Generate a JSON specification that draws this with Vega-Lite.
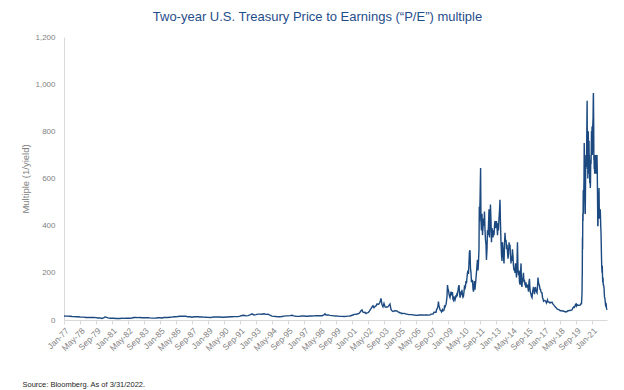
{
"$schema": "https://vega.github.io/schema/vega-lite/v6.json",
"width": 543, "height": 283,
"autosize": {"type": "none"},
"padding": {"left": 64, "top": 37, "right": 17, "bottom": 70},
"background": "white",
"title": {"text": "Two-year U.S. Treasury Price to Earnings (“P/E”) multiple", "anchor": "middle", "frame": "group", "dx": -18, "fontSize": 13, "font": "Liberation Sans", "fontWeight": "normal", "color": "#1f4e8c", "offset": 9},
"data": {"values": [
{"d":"1977-01-01","v":17},{"d":"1977-03-01","v":16.5},{"d":"1977-05-01","v":16.5},{"d":"1977-07-01","v":16},{"d":"1977-09-01","v":15},{"d":"1977-11-01","v":14.5},
{"d":"1978-01-01","v":13.5},{"d":"1978-03-01","v":13.5},{"d":"1978-05-01","v":12.5},{"d":"1978-07-01","v":12},{"d":"1978-09-01","v":12},{"d":"1978-11-01","v":10.5},
{"d":"1979-01-01","v":10.5},{"d":"1979-03-01","v":10.5},{"d":"1979-05-01","v":10.5},{"d":"1979-07-01","v":11},{"d":"1979-09-01","v":10},{"d":"1979-11-01","v":8.5},
{"d":"1980-01-01","v":9},{"d":"1980-03-01","v":6.8},{"d":"1980-05-01","v":10.5},{"d":"1980-06-01","v":12.5},{"d":"1980-07-01","v":12},{"d":"1980-09-01","v":9},{"d":"1980-11-01","v":7.5},
{"d":"1981-01-01","v":7.5},{"d":"1981-03-01","v":7.5},{"d":"1981-05-01","v":6.3},{"d":"1981-07-01","v":6.5},{"d":"1981-09-01","v":6.2},{"d":"1981-11-01","v":8},
{"d":"1982-01-01","v":7},{"d":"1982-03-01","v":7.2},{"d":"1982-05-01","v":7.3},{"d":"1982-07-01","v":7.5},{"d":"1982-09-01","v":8.5},{"d":"1982-11-01","v":10.5},
{"d":"1983-01-01","v":10.5},{"d":"1983-03-01","v":10.2},{"d":"1983-05-01","v":10.5},{"d":"1983-07-01","v":9.5},{"d":"1983-09-01","v":9.5},{"d":"1983-11-01","v":9.8},
{"d":"1984-01-01","v":9.8},{"d":"1984-03-01","v":8.8},{"d":"1984-05-01","v":8},{"d":"1984-07-01","v":7.8},{"d":"1984-09-01","v":8.5},{"d":"1984-11-01","v":9.5},
{"d":"1985-01-01","v":9.5},{"d":"1985-03-01","v":8.8},{"d":"1985-05-01","v":10.5},{"d":"1985-07-01","v":11},{"d":"1985-09-01","v":10.5},{"d":"1985-11-01","v":11.5},
{"d":"1986-01-01","v":12},{"d":"1986-03-01","v":13.5},{"d":"1986-05-01","v":13.5},{"d":"1986-07-01","v":15},{"d":"1986-09-01","v":16},{"d":"1986-11-01","v":16},
{"d":"1987-01-01","v":16.5},{"d":"1987-03-01","v":16},{"d":"1987-05-01","v":13.5},{"d":"1987-07-01","v":13.5},{"d":"1987-09-01","v":12},{"d":"1987-11-01","v":13.5},
{"d":"1988-01-01","v":14},{"d":"1988-03-01","v":14},{"d":"1988-05-01","v":13},{"d":"1988-07-01","v":12.5},{"d":"1988-09-01","v":12},{"d":"1988-11-01","v":11.5},
{"d":"1989-01-01","v":11},{"d":"1989-03-01","v":10.5},{"d":"1989-05-01","v":11.5},{"d":"1989-07-01","v":13},{"d":"1989-09-01","v":12.5},{"d":"1989-11-01","v":13},
{"d":"1990-01-01","v":12.5},{"d":"1990-03-01","v":11.5},{"d":"1990-05-01","v":11.8},{"d":"1990-07-01","v":12.5},{"d":"1990-09-01","v":12.5},{"d":"1990-11-01","v":13.5},
{"d":"1991-01-01","v":14},{"d":"1991-03-01","v":14.5},{"d":"1991-05-01","v":14.5},{"d":"1991-07-01","v":14.5},{"d":"1991-09-01","v":16.5},{"d":"1991-11-01","v":19},
{"d":"1992-01-01","v":20},{"d":"1992-03-01","v":17.5},{"d":"1992-05-01","v":18.5},{"d":"1992-07-01","v":22},{"d":"1992-09-01","v":26},{"d":"1992-11-01","v":21.5},
{"d":"1993-01-01","v":23},{"d":"1993-03-01","v":25},{"d":"1993-05-01","v":25},{"d":"1993-07-01","v":24.5},{"d":"1993-09-01","v":26.5},{"d":"1993-11-01","v":24},
{"d":"1994-01-01","v":24.5},{"d":"1994-03-01","v":21},{"d":"1994-05-01","v":16.5},{"d":"1994-07-01","v":15.5},{"d":"1994-09-01","v":15},{"d":"1994-11-01","v":13.5},
{"d":"1995-01-01","v":13.5},{"d":"1995-03-01","v":15},{"d":"1995-05-01","v":16.5},{"d":"1995-07-01","v":17.5},{"d":"1995-09-01","v":17.5},{"d":"1995-11-01","v":18.5},
{"d":"1996-01-01","v":20},{"d":"1996-03-01","v":17.5},{"d":"1996-05-01","v":16},{"d":"1996-07-01","v":15.5},{"d":"1996-09-01","v":16},{"d":"1996-11-01","v":17.5},
{"d":"1997-01-01","v":17},{"d":"1997-03-01","v":16},{"d":"1997-05-01","v":16},{"d":"1997-07-01","v":17},{"d":"1997-09-01","v":17},{"d":"1997-11-01","v":17.5},
{"d":"1998-01-01","v":18},{"d":"1998-03-01","v":18},{"d":"1998-05-01","v":18},{"d":"1998-07-01","v":18},{"d":"1998-09-01","v":22},{"d":"1998-10-01","v":26},{"d":"1998-11-01","v":21},
{"d":"1999-01-01","v":21.5},{"d":"1999-03-01","v":19.5},{"d":"1999-05-01","v":18.5},{"d":"1999-07-01","v":17.5},{"d":"1999-09-01","v":17},{"d":"1999-11-01","v":16.5},
{"d":"2000-01-01","v":15.5},{"d":"2000-03-01","v":15.5},{"d":"2000-05-01","v":14.8},{"d":"2000-07-01","v":15.5},{"d":"2000-09-01","v":16.5},{"d":"2000-11-01","v":17},
{"d":"2001-01-01","v":20},{"d":"2001-02-01","v":21},{"d":"2001-03-01","v":24},{"d":"2001-04-01","v":24},{"d":"2001-05-01","v":24.5},{"d":"2001-06-01","v":25},{"d":"2001-07-01","v":26.5},{"d":"2001-08-01","v":28},{"d":"2001-09-01","v":33},{"d":"2001-10-01","v":39},{"d":"2001-11-01","v":43},{"d":"2001-12-01","v":33},
{"d":"2002-01-01","v":32},{"d":"2002-02-01","v":33},{"d":"2002-03-01","v":27},{"d":"2002-04-01","v":30},{"d":"2002-05-01","v":31},{"d":"2002-06-01","v":35},{"d":"2002-07-01","v":42},{"d":"2002-08-01","v":48},{"d":"2002-09-01","v":55},{"d":"2002-10-01","v":60},{"d":"2002-11-01","v":52},{"d":"2002-12-01","v":58},
{"d":"2003-01-01","v":60},{"d":"2003-02-01","v":68},{"d":"2003-03-01","v":66},{"d":"2003-04-01","v":68},{"d":"2003-05-01","v":75},{"d":"2003-06-01","v":92},{"d":"2003-07-01","v":66},{"d":"2003-08-01","v":56},{"d":"2003-09-01","v":70},{"d":"2003-10-01","v":56},{"d":"2003-11-01","v":54},{"d":"2003-12-01","v":55},
{"d":"2004-01-01","v":57},{"d":"2004-02-01","v":62},{"d":"2004-03-01","v":68},{"d":"2004-04-01","v":45},{"d":"2004-05-01","v":39},{"d":"2004-06-01","v":36},{"d":"2004-07-01","v":38},{"d":"2004-08-01","v":40},{"d":"2004-09-01","v":38},{"d":"2004-10-01","v":38},{"d":"2004-11-01","v":34},{"d":"2004-12-01","v":33},
{"d":"2005-01-01","v":30},{"d":"2005-02-01","v":30},{"d":"2005-03-01","v":27},{"d":"2005-04-01","v":28},{"d":"2005-05-01","v":28},{"d":"2005-06-01","v":27},{"d":"2005-07-01","v":25},{"d":"2005-08-01","v":25},{"d":"2005-09-01","v":24},{"d":"2005-10-01","v":23},{"d":"2005-11-01","v":23},{"d":"2005-12-01","v":23},
{"d":"2006-01-01","v":23},{"d":"2006-02-01","v":22},{"d":"2006-03-01","v":21},{"d":"2006-04-01","v":20.5},{"d":"2006-05-01","v":20},{"d":"2006-06-01","v":19.5},{"d":"2006-07-01","v":20},{"d":"2006-08-01","v":21},{"d":"2006-09-01","v":21.5},{"d":"2006-10-01","v":21},{"d":"2006-11-01","v":21.5},{"d":"2006-12-01","v":21},
{"d":"2007-01-01","v":20.5},{"d":"2007-02-01","v":21.5},{"d":"2007-03-01","v":21.5},{"d":"2007-04-01","v":21.5},{"d":"2007-05-01","v":20.5},{"d":"2007-06-01","v":20.5},{"d":"2007-07-01","v":22},{"d":"2007-08-01","v":25},{"d":"2007-09-01","v":25},{"d":"2007-10-01","v":25},{"d":"2007-11-01","v":33},{"d":"2007-12-01","v":33},
{"d":"2008-01-01","v":33},{"d":"2008-01-15","v":42},{"d":"2008-02-01","v":47},{"d":"2008-02-15","v":52},{"d":"2008-03-01","v":60},{"d":"2008-03-15","v":78},{"d":"2008-04-01","v":58},{"d":"2008-04-15","v":54},{"d":"2008-05-01","v":43},{"d":"2008-05-15","v":42},{"d":"2008-06-01","v":39},{"d":"2008-06-15","v":34},{"d":"2008-07-01","v":38},{"d":"2008-07-15","v":44},{"d":"2008-08-01","v":39},{"d":"2008-08-15","v":42},{"d":"2008-09-01","v":42},{"d":"2008-09-15","v":58},{"d":"2008-10-01","v":55},{"d":"2008-10-15","v":60},{"d":"2008-11-01","v":66},{"d":"2008-11-15","v":80},{"d":"2008-12-01","v":100},{"d":"2008-12-15","v":148},
{"d":"2009-01-01","v":130},{"d":"2009-01-15","v":125},{"d":"2009-02-01","v":110},{"d":"2009-02-15","v":100},{"d":"2009-03-01","v":95},{"d":"2009-03-15","v":107},{"d":"2009-04-01","v":120},{"d":"2009-04-15","v":108},{"d":"2009-05-01","v":110},{"d":"2009-05-15","v":118},{"d":"2009-06-01","v":88},{"d":"2009-06-15","v":84},{"d":"2009-07-01","v":100},{"d":"2009-07-15","v":94},{"d":"2009-08-01","v":85},{"d":"2009-08-15","v":92},{"d":"2009-09-01","v":105},{"d":"2009-09-15","v":97},{"d":"2009-10-01","v":115},{"d":"2009-10-15","v":110},{"d":"2009-11-01","v":125},{"d":"2009-11-15","v":140},{"d":"2009-12-01","v":148},{"d":"2009-12-15","v":120},
{"d":"2010-01-01","v":95},{"d":"2010-01-15","v":103},{"d":"2010-02-01","v":120},{"d":"2010-02-15","v":107},{"d":"2010-03-01","v":128},{"d":"2010-03-15","v":108},{"d":"2010-04-01","v":97},{"d":"2010-04-15","v":100},{"d":"2010-05-01","v":118},{"d":"2010-05-15","v":140},{"d":"2010-06-01","v":135},{"d":"2010-06-15","v":142},{"d":"2010-07-01","v":165},{"d":"2010-07-15","v":155},{"d":"2010-08-01","v":180},{"d":"2010-08-15","v":200},{"d":"2010-09-01","v":210},{"d":"2010-09-15","v":195},{"d":"2010-10-01","v":245},{"d":"2010-10-15","v":290},{"d":"2010-11-01","v":296},{"d":"2010-11-15","v":220},{"d":"2010-12-01","v":200},{"d":"2010-12-15","v":160},
{"d":"2011-01-01","v":165},{"d":"2011-01-15","v":170},{"d":"2011-02-01","v":130},{"d":"2011-02-15","v":120},{"d":"2011-03-01","v":138},{"d":"2011-03-15","v":165},{"d":"2011-04-01","v":128},{"d":"2011-04-15","v":150},{"d":"2011-05-01","v":175},{"d":"2011-05-15","v":200},{"d":"2011-06-01","v":230},{"d":"2011-06-15","v":255},{"d":"2011-07-01","v":210},{"d":"2011-07-15","v":240},{"d":"2011-08-01","v":300},{"d":"2011-08-10","v":480},{"d":"2011-08-15","v":420},{"d":"2011-09-01","v":500},{"d":"2011-09-19","v":645},{"d":"2011-10-01","v":420},{"d":"2011-10-15","v":380},{"d":"2011-11-01","v":450},{"d":"2011-11-15","v":360},{"d":"2011-12-01","v":390},{"d":"2011-12-15","v":430},
{"d":"2012-01-01","v":400},{"d":"2012-01-15","v":460},{"d":"2012-02-01","v":380},{"d":"2012-02-15","v":340},{"d":"2012-03-01","v":320},{"d":"2012-03-15","v":255},{"d":"2012-04-01","v":300},{"d":"2012-04-15","v":380},{"d":"2012-05-01","v":360},{"d":"2012-05-15","v":400},{"d":"2012-06-01","v":470},{"d":"2012-06-15","v":350},{"d":"2012-07-01","v":410},{"d":"2012-07-15","v":490},{"d":"2012-08-01","v":420},{"d":"2012-08-15","v":330},{"d":"2012-09-01","v":390},{"d":"2012-09-15","v":370},{"d":"2012-10-01","v":350},{"d":"2012-10-15","v":380},{"d":"2012-11-01","v":360},{"d":"2012-11-15","v":400},{"d":"2012-12-01","v":420},{"d":"2012-12-15","v":390},
{"d":"2013-01-01","v":400},{"d":"2013-01-15","v":420},{"d":"2013-02-01","v":390},{"d":"2013-02-15","v":360},{"d":"2013-03-01","v":410},{"d":"2013-03-15","v":380},{"d":"2013-04-01","v":430},{"d":"2013-04-15","v":460},{"d":"2013-05-01","v":510},{"d":"2013-05-15","v":420},{"d":"2013-06-01","v":330},{"d":"2013-06-15","v":280},{"d":"2013-07-01","v":250},{"d":"2013-07-15","v":330},{"d":"2013-08-01","v":300},{"d":"2013-08-15","v":270},{"d":"2013-09-01","v":240},{"d":"2013-09-15","v":320},{"d":"2013-10-01","v":370},{"d":"2013-10-15","v":330},{"d":"2013-11-01","v":340},{"d":"2013-11-15","v":300},{"d":"2013-12-01","v":320},{"d":"2013-12-15","v":290},
{"d":"2014-01-01","v":260},{"d":"2014-01-15","v":280},{"d":"2014-02-01","v":330},{"d":"2014-02-15","v":300},{"d":"2014-03-01","v":320},{"d":"2014-03-15","v":280},{"d":"2014-04-01","v":240},{"d":"2014-04-15","v":270},{"d":"2014-05-01","v":250},{"d":"2014-05-15","v":300},{"d":"2014-06-01","v":270},{"d":"2014-06-15","v":230},{"d":"2014-07-01","v":210},{"d":"2014-07-15","v":220},{"d":"2014-08-01","v":200},{"d":"2014-08-15","v":240},{"d":"2014-09-01","v":210},{"d":"2014-09-15","v":180},{"d":"2014-10-01","v":240},{"d":"2014-10-15","v":330},{"d":"2014-11-01","v":210},{"d":"2014-11-15","v":190},{"d":"2014-12-01","v":210},{"d":"2014-12-15","v":160},
{"d":"2015-01-01","v":150},{"d":"2015-01-15","v":200},{"d":"2015-02-01","v":240},{"d":"2015-02-15","v":150},{"d":"2015-03-01","v":140},{"d":"2015-03-15","v":170},{"d":"2015-04-01","v":180},{"d":"2015-04-15","v":200},{"d":"2015-05-01","v":160},{"d":"2015-05-15","v":170},{"d":"2015-06-01","v":150},{"d":"2015-06-15","v":145},{"d":"2015-07-01","v":160},{"d":"2015-07-15","v":140},{"d":"2015-08-01","v":140},{"d":"2015-08-15","v":150},{"d":"2015-09-01","v":135},{"d":"2015-09-15","v":120},{"d":"2015-10-01","v":160},{"d":"2015-10-15","v":175},{"d":"2015-11-01","v":130},{"d":"2015-11-15","v":115},{"d":"2015-12-01","v":110},{"d":"2015-12-15","v":100},
{"d":"2016-01-01","v":95},{"d":"2016-01-15","v":115},{"d":"2016-02-01","v":130},{"d":"2016-02-15","v":140},{"d":"2016-03-01","v":125},{"d":"2016-03-15","v":110},{"d":"2016-04-01","v":130},{"d":"2016-04-15","v":140},{"d":"2016-05-01","v":125},{"d":"2016-05-15","v":120},{"d":"2016-06-01","v":115},{"d":"2016-06-15","v":140},{"d":"2016-07-01","v":180},{"d":"2016-07-15","v":160},{"d":"2016-08-01","v":150},{"d":"2016-08-15","v":145},{"d":"2016-09-01","v":130},{"d":"2016-09-15","v":130},{"d":"2016-10-01","v":120},{"d":"2016-10-15","v":115},{"d":"2016-11-01","v":115},{"d":"2016-11-15","v":95},{"d":"2016-12-01","v":90},{"d":"2016-12-15","v":80},
{"d":"2017-01-01","v":82},{"d":"2017-01-15","v":83},{"d":"2017-02-01","v":82},{"d":"2017-02-15","v":80},{"d":"2017-03-01","v":77},{"d":"2017-03-15","v":72},{"d":"2017-04-01","v":78},{"d":"2017-04-15","v":85},{"d":"2017-05-01","v":77},{"d":"2017-05-15","v":76},{"d":"2017-06-01","v":77},{"d":"2017-06-15","v":74},{"d":"2017-07-01","v":72},{"d":"2017-07-15","v":74},{"d":"2017-08-01","v":74},{"d":"2017-08-15","v":75},{"d":"2017-09-01","v":76},{"d":"2017-09-15","v":72},{"d":"2017-10-01","v":67},{"d":"2017-10-15","v":65},{"d":"2017-11-01","v":63},{"d":"2017-11-15","v":60},{"d":"2017-12-01","v":57},{"d":"2017-12-15","v":54},
{"d":"2018-01-01","v":53},{"d":"2018-01-15","v":50},{"d":"2018-02-01","v":47},{"d":"2018-02-15","v":46},{"d":"2018-03-01","v":45},{"d":"2018-03-15","v":44},{"d":"2018-04-01","v":44},{"d":"2018-04-15","v":42},{"d":"2018-05-01","v":40},{"d":"2018-05-15","v":39},{"d":"2018-06-01","v":40},{"d":"2018-06-15","v":39},{"d":"2018-07-01","v":39},{"d":"2018-07-15","v":38},{"d":"2018-08-01","v":38},{"d":"2018-08-15","v":38},{"d":"2018-09-01","v":37},{"d":"2018-09-15","v":36},{"d":"2018-10-01","v":35},{"d":"2018-10-15","v":35},{"d":"2018-11-01","v":34},{"d":"2018-11-15","v":35},{"d":"2018-12-01","v":36},{"d":"2018-12-15","v":37},
{"d":"2019-01-01","v":40},{"d":"2019-01-15","v":39},{"d":"2019-02-01","v":40},{"d":"2019-02-15","v":40},{"d":"2019-03-01","v":40},{"d":"2019-03-15","v":41},{"d":"2019-04-01","v":42},{"d":"2019-04-15","v":42},{"d":"2019-05-01","v":43},{"d":"2019-05-15","v":46},{"d":"2019-06-01","v":52},{"d":"2019-06-15","v":54},{"d":"2019-07-01","v":56},{"d":"2019-07-15","v":54},{"d":"2019-08-01","v":58},{"d":"2019-08-15","v":66},{"d":"2019-09-01","v":68},{"d":"2019-09-15","v":60},{"d":"2019-10-01","v":65},{"d":"2019-10-15","v":62},{"d":"2019-11-01","v":63},{"d":"2019-11-15","v":62},{"d":"2019-12-01","v":62},{"d":"2019-12-15","v":63},
{"d":"2020-01-01","v":63},{"d":"2020-01-15","v":64},{"d":"2020-02-01","v":70},{"d":"2020-02-15","v":70},{"d":"2020-03-01","v":110},{"d":"2020-03-06","v":170},{"d":"2020-03-10","v":200},{"d":"2020-03-15","v":350},{"d":"2020-03-20","v":300},{"d":"2020-03-25","v":450},{"d":"2020-04-01","v":420},{"d":"2020-04-08","v":550},{"d":"2020-04-15","v":450},{"d":"2020-04-22","v":520},{"d":"2020-05-01","v":600},{"d":"2020-05-08","v":750},{"d":"2020-05-15","v":650},{"d":"2020-05-22","v":700},{"d":"2020-06-01","v":550},{"d":"2020-06-08","v":450},{"d":"2020-06-15","v":550},{"d":"2020-06-22","v":650},{"d":"2020-07-01","v":640},{"d":"2020-07-08","v":700},{"d":"2020-07-15","v":650},{"d":"2020-07-22","v":750},{"d":"2020-08-01","v":900},{"d":"2020-08-05","v":930},{"d":"2020-08-12","v":650},{"d":"2020-08-19","v":760},{"d":"2020-08-26","v":600},{"d":"2020-09-01","v":720},{"d":"2020-09-08","v":800},{"d":"2020-09-15","v":700},{"d":"2020-09-22","v":750},{"d":"2020-10-01","v":760},{"d":"2020-10-08","v":620},{"d":"2020-10-15","v":700},{"d":"2020-10-22","v":580},{"d":"2020-11-01","v":650},{"d":"2020-11-09","v":560},{"d":"2020-11-15","v":580},{"d":"2020-11-22","v":680},{"d":"2020-12-01","v":660},{"d":"2020-12-08","v":720},{"d":"2020-12-15","v":800},{"d":"2020-12-22","v":760},
{"d":"2021-01-01","v":820},{"d":"2021-01-08","v":700},{"d":"2021-01-15","v":720},{"d":"2021-01-22","v":820},{"d":"2021-02-01","v":860},{"d":"2021-02-08","v":950},{"d":"2021-02-12","v":962},{"d":"2021-02-19","v":860},{"d":"2021-02-26","v":680},{"d":"2021-03-01","v":700},{"d":"2021-03-08","v":640},{"d":"2021-03-15","v":700},{"d":"2021-03-22","v":620},{"d":"2021-04-01","v":650},{"d":"2021-04-08","v":700},{"d":"2021-04-15","v":620},{"d":"2021-04-22","v":640},{"d":"2021-05-01","v":700},{"d":"2021-05-08","v":620},{"d":"2021-05-15","v":650},{"d":"2021-05-22","v":690},{"d":"2021-06-01","v":700},{"d":"2021-06-08","v":640},{"d":"2021-06-17","v":520},{"d":"2021-06-24","v":400},{"d":"2021-07-01","v":400},{"d":"2021-07-08","v":480},{"d":"2021-07-15","v":430},{"d":"2021-07-22","v":500},{"d":"2021-08-01","v":560},{"d":"2021-08-08","v":480},{"d":"2021-08-15","v":450},{"d":"2021-08-22","v":430},{"d":"2021-09-01","v":450},{"d":"2021-09-08","v":470},{"d":"2021-09-15","v":440},{"d":"2021-09-22","v":400},{"d":"2021-10-01","v":370},{"d":"2021-10-08","v":320},{"d":"2021-10-15","v":270},{"d":"2021-10-22","v":230},{"d":"2021-11-01","v":200},{"d":"2021-11-08","v":230},{"d":"2021-11-15","v":190},{"d":"2021-11-22","v":160},{"d":"2021-12-01","v":180},{"d":"2021-12-08","v":150},{"d":"2021-12-15","v":150},{"d":"2021-12-22","v":145},
{"d":"2022-01-01","v":135},{"d":"2022-01-08","v":115},{"d":"2022-01-15","v":98},{"d":"2022-01-22","v":95},{"d":"2022-02-01","v":85},{"d":"2022-02-08","v":75},{"d":"2022-02-15","v":65},{"d":"2022-02-22","v":67},{"d":"2022-03-01","v":73},{"d":"2022-03-08","v":65},{"d":"2022-03-15","v":52},{"d":"2022-03-22","v":47},{"d":"2022-03-31","v":43}
]},
"mark": {"type": "line", "color": "#1c4a80", "strokeWidth": 1.4},
"encoding": {
  "x": {"field": "d", "type": "temporal",
    "scale": {"domain": [{"year": 1977, "month": 1, "date": 1}, {"year": 2022, "month": 4, "date": 1}]},
    "axis": {
      "values": [
        {"year":1977,"month":1,"date":1},{"year":1978,"month":5,"date":1},{"year":1979,"month":9,"date":1},{"year":1981,"month":1,"date":1},{"year":1982,"month":5,"date":1},{"year":1983,"month":9,"date":1},{"year":1985,"month":1,"date":1},{"year":1986,"month":5,"date":1},{"year":1987,"month":9,"date":1},{"year":1989,"month":1,"date":1},{"year":1990,"month":5,"date":1},{"year":1991,"month":9,"date":1},{"year":1993,"month":1,"date":1},{"year":1994,"month":5,"date":1},{"year":1995,"month":9,"date":1},{"year":1997,"month":1,"date":1},{"year":1998,"month":5,"date":1},{"year":1999,"month":9,"date":1},{"year":2001,"month":1,"date":1},{"year":2002,"month":5,"date":1},{"year":2003,"month":9,"date":1},{"year":2005,"month":1,"date":1},{"year":2006,"month":5,"date":1},{"year":2007,"month":9,"date":1},{"year":2009,"month":1,"date":1},{"year":2010,"month":5,"date":1},{"year":2011,"month":9,"date":1},{"year":2013,"month":1,"date":1},{"year":2014,"month":5,"date":1},{"year":2015,"month":9,"date":1},{"year":2017,"month":1,"date":1},{"year":2018,"month":5,"date":1},{"year":2019,"month":9,"date":1},{"year":2021,"month":1,"date":1}
      ],
      "format": "%b-%y", "labelAngle": -45, "labelFontSize": 8.5, "labelFont": "Liberation Sans", "labelColor": "#7f7f7f",
      "labelOverlap": false, "labelPadding": 2, "labelFlush": false,
      "domainColor": "#d9d9d9", "tickColor": "#d9d9d9", "tickSize": 4, "grid": false,
      "title": "Source: Bloomberg. As of 3/31/2022.", "titleAnchor": "start", "titleAlign": "left", "titleBaseline": "alphabetic",
      "titleX": -42, "titleY": 66, "titleFontSize": 7.5, "titleFont": "Liberation Sans", "titleFontWeight": "normal", "titleColor": "#262626"
    }
  },
  "y": {"field": "v", "type": "quantitative",
    "scale": {"domain": [0, 1200]},
    "axis": {
      "values": [0, 200, 400, 600, 800, 1000, 1200], "format": ",.0f",
      "labelFontSize": 8, "labelFont": "Liberation Sans", "labelColor": "#7f7f7f", "labelPadding": 9,
      "ticks": false, "grid": false, "domainColor": "#d9d9d9",
      "title": "Multiple  (1/yield)", "titleFontSize": 9.5, "titleFont": "Liberation Sans", "titleFontWeight": "normal", "titleColor": "#7f7f7f", "titlePadding": 4
    }
  }
},
"config": {"view": {"stroke": null}}
}
